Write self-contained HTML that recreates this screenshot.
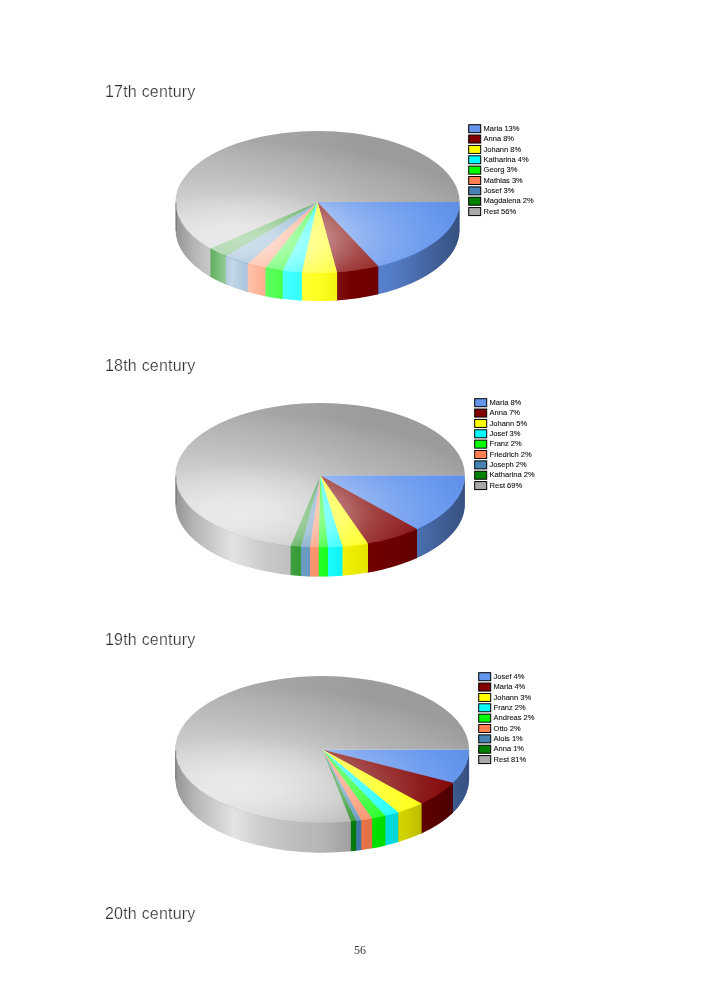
<!DOCTYPE html>
<html><head><meta charset="utf-8"><style>
html,body{margin:0;padding:0;background:#fff;}
body{width:709px;height:992px;position:relative;overflow:hidden;}
.h{position:absolute;left:105px;font-family:"Liberation Sans",sans-serif;font-size:16px;line-height:19px;color:#333;letter-spacing:0.21px;-webkit-text-stroke:0.22px #fff;paint-order:normal;will-change:transform;white-space:nowrap;}
.pn{position:absolute;left:0;width:709px;text-align:center;top:943px;font-family:"Liberation Serif",serif;font-size:12px;line-height:14px;color:#383838;will-change:transform;padding-left:11px;box-sizing:border-box;}
svg{position:absolute;left:0;top:0;will-change:transform;}
svg text{font-family:"Liberation Sans",sans-serif;font-size:7.5px;fill:#111;stroke:#111;stroke-width:0.1px;}
</style></head><body>
<div class="h" style="top:81.70px">17th century</div><div class="h" style="top:356.00px">18th century</div><div class="h" style="top:630.20px">19th century</div><div class="h" style="top:903.90px">20th century</div>
<svg width="709" height="992" viewBox="0 0 709 992">
<defs>
<linearGradient id="swc0" gradientUnits="userSpaceOnUse" x1="175.60" y1="0" x2="459.60" y2="0">
<stop offset="0" stop-color="#fff" stop-opacity="0"/>
<stop offset="0.06" stop-color="#fff" stop-opacity="0.12"/>
<stop offset="0.2" stop-color="#fff" stop-opacity="0.68"/>
<stop offset="0.3" stop-color="#fff" stop-opacity="0.4"/>
<stop offset="0.42" stop-color="#fff" stop-opacity="0.22"/>
<stop offset="0.52" stop-color="#fff" stop-opacity="0.12"/>
<stop offset="0.62" stop-color="#fff" stop-opacity="0"/>
</linearGradient>
<linearGradient id="sbc0" gradientUnits="userSpaceOnUse" x1="175.60" y1="0" x2="459.60" y2="0">
<stop offset="0" stop-color="#000" stop-opacity="0.12"/>
<stop offset="0.06" stop-color="#000" stop-opacity="0"/>
<stop offset="0.5" stop-color="#000" stop-opacity="0"/>
<stop offset="0.62" stop-color="#000" stop-opacity="0.08"/>
<stop offset="0.78" stop-color="#000" stop-opacity="0.18"/>
<stop offset="0.9" stop-color="#000" stop-opacity="0.34"/>
<stop offset="1" stop-color="#000" stop-opacity="0.46"/>
</linearGradient>
<radialGradient id="twc0" gradientUnits="userSpaceOnUse" cx="239.50" cy="238.92" r="258.44" gradientTransform="translate(239.50,238.92) scale(1,0.38) translate(-239.50,-238.92)">
<stop offset="0" stop-color="#fff" stop-opacity="0.72"/>
<stop offset="0.143" stop-color="#fff" stop-opacity="0.68"/>
<stop offset="0.32" stop-color="#fff" stop-opacity="0.52"/>
<stop offset="0.41" stop-color="#fff" stop-opacity="0.4"/>
<stop offset="0.5" stop-color="#fff" stop-opacity="0.27"/>
<stop offset="0.69" stop-color="#fff" stop-opacity="0.1"/>
<stop offset="0.836" stop-color="#fff" stop-opacity="0"/>
</radialGradient>
<linearGradient id="tlc0" gradientUnits="userSpaceOnUse" x1="175.60" y1="131.00" x2="360.20" y2="159.40">
<stop offset="0" stop-color="#fff" stop-opacity="0.2"/>
<stop offset="0.5" stop-color="#fff" stop-opacity="0.1"/>
<stop offset="1" stop-color="#fff" stop-opacity="0"/>
</linearGradient>
<radialGradient id="tbc0" gradientUnits="userSpaceOnUse" cx="239.50" cy="238.92" r="258.44" gradientTransform="translate(239.50,238.92) scale(1,0.38) translate(-239.50,-238.92)">
<stop offset="0.836" stop-color="#000" stop-opacity="0"/>
<stop offset="1" stop-color="#000" stop-opacity="0.08"/>
</radialGradient><linearGradient id="swc1" gradientUnits="userSpaceOnUse" x1="175.50" y1="0" x2="464.90" y2="0">
<stop offset="0" stop-color="#fff" stop-opacity="0"/>
<stop offset="0.06" stop-color="#fff" stop-opacity="0.12"/>
<stop offset="0.2" stop-color="#fff" stop-opacity="0.68"/>
<stop offset="0.3" stop-color="#fff" stop-opacity="0.4"/>
<stop offset="0.42" stop-color="#fff" stop-opacity="0.22"/>
<stop offset="0.52" stop-color="#fff" stop-opacity="0.12"/>
<stop offset="0.62" stop-color="#fff" stop-opacity="0"/>
</linearGradient>
<linearGradient id="sbc1" gradientUnits="userSpaceOnUse" x1="175.50" y1="0" x2="464.90" y2="0">
<stop offset="0" stop-color="#000" stop-opacity="0.12"/>
<stop offset="0.06" stop-color="#000" stop-opacity="0"/>
<stop offset="0.5" stop-color="#000" stop-opacity="0"/>
<stop offset="0.62" stop-color="#000" stop-opacity="0.08"/>
<stop offset="0.78" stop-color="#000" stop-opacity="0.18"/>
<stop offset="0.9" stop-color="#000" stop-opacity="0.34"/>
<stop offset="1" stop-color="#000" stop-opacity="0.46"/>
</linearGradient>
<radialGradient id="twc1" gradientUnits="userSpaceOnUse" cx="240.62" cy="512.90" r="263.35" gradientTransform="translate(240.62,512.90) scale(1,0.38) translate(-240.62,-512.90)">
<stop offset="0" stop-color="#fff" stop-opacity="0.72"/>
<stop offset="0.143" stop-color="#fff" stop-opacity="0.68"/>
<stop offset="0.32" stop-color="#fff" stop-opacity="0.52"/>
<stop offset="0.41" stop-color="#fff" stop-opacity="0.4"/>
<stop offset="0.5" stop-color="#fff" stop-opacity="0.27"/>
<stop offset="0.69" stop-color="#fff" stop-opacity="0.1"/>
<stop offset="0.836" stop-color="#fff" stop-opacity="0"/>
</radialGradient>
<linearGradient id="tlc1" gradientUnits="userSpaceOnUse" x1="175.50" y1="403.00" x2="363.61" y2="431.92">
<stop offset="0" stop-color="#fff" stop-opacity="0.2"/>
<stop offset="0.5" stop-color="#fff" stop-opacity="0.1"/>
<stop offset="1" stop-color="#fff" stop-opacity="0"/>
</linearGradient>
<radialGradient id="tbc1" gradientUnits="userSpaceOnUse" cx="240.62" cy="512.90" r="263.35" gradientTransform="translate(240.62,512.90) scale(1,0.38) translate(-240.62,-512.90)">
<stop offset="0.836" stop-color="#000" stop-opacity="0"/>
<stop offset="1" stop-color="#000" stop-opacity="0.08"/>
</radialGradient><linearGradient id="swc2" gradientUnits="userSpaceOnUse" x1="175.30" y1="0" x2="469.10" y2="0">
<stop offset="0" stop-color="#fff" stop-opacity="0"/>
<stop offset="0.06" stop-color="#fff" stop-opacity="0.12"/>
<stop offset="0.2" stop-color="#fff" stop-opacity="0.68"/>
<stop offset="0.3" stop-color="#fff" stop-opacity="0.4"/>
<stop offset="0.42" stop-color="#fff" stop-opacity="0.22"/>
<stop offset="0.52" stop-color="#fff" stop-opacity="0.12"/>
<stop offset="0.62" stop-color="#fff" stop-opacity="0"/>
</linearGradient>
<linearGradient id="sbc2" gradientUnits="userSpaceOnUse" x1="175.30" y1="0" x2="469.10" y2="0">
<stop offset="0" stop-color="#000" stop-opacity="0.12"/>
<stop offset="0.06" stop-color="#000" stop-opacity="0"/>
<stop offset="0.5" stop-color="#000" stop-opacity="0"/>
<stop offset="0.62" stop-color="#000" stop-opacity="0.08"/>
<stop offset="0.78" stop-color="#000" stop-opacity="0.18"/>
<stop offset="0.9" stop-color="#000" stop-opacity="0.34"/>
<stop offset="1" stop-color="#000" stop-opacity="0.46"/>
</linearGradient>
<radialGradient id="twc2" gradientUnits="userSpaceOnUse" cx="241.40" cy="787.57" r="267.36" gradientTransform="translate(241.40,787.57) scale(1,0.38) translate(-241.40,-787.57)">
<stop offset="0" stop-color="#fff" stop-opacity="0.72"/>
<stop offset="0.143" stop-color="#fff" stop-opacity="0.68"/>
<stop offset="0.32" stop-color="#fff" stop-opacity="0.52"/>
<stop offset="0.41" stop-color="#fff" stop-opacity="0.4"/>
<stop offset="0.5" stop-color="#fff" stop-opacity="0.27"/>
<stop offset="0.69" stop-color="#fff" stop-opacity="0.1"/>
<stop offset="0.836" stop-color="#fff" stop-opacity="0"/>
</radialGradient>
<linearGradient id="tlc2" gradientUnits="userSpaceOnUse" x1="175.30" y1="676.00" x2="366.27" y2="705.36">
<stop offset="0" stop-color="#fff" stop-opacity="0.2"/>
<stop offset="0.5" stop-color="#fff" stop-opacity="0.1"/>
<stop offset="1" stop-color="#fff" stop-opacity="0"/>
</linearGradient>
<radialGradient id="tbc2" gradientUnits="userSpaceOnUse" cx="241.40" cy="787.57" r="267.36" gradientTransform="translate(241.40,787.57) scale(1,0.38) translate(-241.40,-787.57)">
<stop offset="0.836" stop-color="#000" stop-opacity="0"/>
<stop offset="1" stop-color="#000" stop-opacity="0.08"/>
</radialGradient>
</defs>
<g><path d="M459.60,200.80 A142.00,71.00 0 0 1 377.26,265.23 L377.26,294.53 A142.00,71.00 0 0 0 459.60,230.10 Z" fill="#6495ed"/>
<path d="M378.30,264.99 A142.00,71.00 0 0 1 336.33,271.18 L336.33,300.48 A142.00,71.00 0 0 0 378.30,294.29 Z" fill="#800000"/>
<path d="M337.10,271.13 A142.00,71.00 0 0 1 301.06,271.32 L301.06,300.62 A142.00,71.00 0 0 0 337.10,300.43 Z" fill="#ffff00"/>
<path d="M301.83,271.36 A142.00,71.00 0 0 1 281.83,269.51 L281.83,298.81 A142.00,71.00 0 0 0 301.83,300.66 Z" fill="#00ffff"/>
<path d="M282.69,269.62 A142.00,71.00 0 0 1 264.47,266.64 L264.47,295.94 A142.00,71.00 0 0 0 282.69,298.92 Z" fill="#00ff00"/>
<path d="M265.45,266.84 A142.00,71.00 0 0 1 246.61,262.29 L246.61,291.59 A142.00,71.00 0 0 0 265.45,296.14 Z" fill="#ff7f50"/>
<path d="M247.73,262.61 A142.00,71.00 0 0 1 224.64,254.47 L224.64,283.77 A142.00,71.00 0 0 0 247.73,291.91 Z" fill="#4682b4"/>
<path d="M225.92,255.02 A142.00,71.00 0 0 1 209.13,246.62 L209.13,275.92 A142.00,71.00 0 0 0 225.92,284.32 Z" fill="#008000"/>
<path d="M210.45,247.39 A142.00,71.00 0 0 1 175.60,200.80 L175.60,230.10 A142.00,71.00 0 0 0 210.45,276.69 Z" fill="#a9a9a9"/>
<path d="M459.60,202.00 A142.00,71.00 0 0 1 175.60,202.00 L175.60,230.10 A142.00,71.00 0 0 0 459.60,230.10 Z" fill="url(#swc0)"/>
<path d="M459.60,202.00 A142.00,71.00 0 0 1 175.60,202.00 L175.60,230.10 A142.00,71.00 0 0 0 459.60,230.10 Z" fill="url(#sbc0)"/>
<path d="M317.60,202.00 L459.60,202.00 A142.00,71.00 0 0 1 377.43,266.39 Z" fill="#6495ed"/>
<path d="M317.60,202.00 L378.30,266.19 A142.00,71.00 0 0 1 336.46,272.37 Z" fill="#800000"/>
<path d="M317.60,202.00 L337.10,272.33 A142.00,71.00 0 0 1 301.19,272.52 Z" fill="#ffff00"/>
<path d="M317.60,202.00 L301.83,272.56 A142.00,71.00 0 0 1 281.97,270.73 Z" fill="#00ffff"/>
<path d="M317.60,202.00 L282.69,270.82 A142.00,71.00 0 0 1 264.63,267.88 Z" fill="#00ff00"/>
<path d="M317.60,202.00 L265.45,268.04 A142.00,71.00 0 0 1 246.80,263.55 Z" fill="#ff7f50"/>
<path d="M317.60,202.00 L247.73,263.81 A142.00,71.00 0 0 1 224.85,255.76 Z" fill="#4682b4"/>
<path d="M317.60,202.00 L225.92,256.22 A142.00,71.00 0 0 1 209.35,247.95 Z" fill="#008000"/>
<path d="M317.60,202.00 L210.45,248.59 A142.00,71.00 0 1 1 459.60,202.00 Z" fill="#a9a9a9"/>
<ellipse cx="317.60" cy="202.00" rx="142.00" ry="71.00" fill="url(#twc0)"/>
<ellipse cx="317.60" cy="202.00" rx="142.00" ry="71.00" fill="url(#tbc0)"/>
<ellipse cx="317.60" cy="202.00" rx="142.00" ry="71.00" fill="url(#tlc0)"/>
<path d="M176.05,202.80 L176.05,230.40" stroke="#000" stroke-opacity="0.38" stroke-width="0.9"/>
<rect x="468.70" y="124.70" width="12" height="8" fill="#6495ed" stroke="#000" stroke-width="1"/>
<text x="483.60" y="130.80">Maria 13%</text>
<rect x="468.70" y="135.06" width="12" height="8" fill="#800000" stroke="#000" stroke-width="1"/>
<text x="483.60" y="141.16">Anna 8%</text>
<rect x="468.70" y="145.42" width="12" height="8" fill="#ffff00" stroke="#000" stroke-width="1"/>
<text x="483.60" y="151.52">Johann 8%</text>
<rect x="468.70" y="155.78" width="12" height="8" fill="#00ffff" stroke="#000" stroke-width="1"/>
<text x="483.60" y="161.88">Katharina 4%</text>
<rect x="468.70" y="166.14" width="12" height="8" fill="#00ff00" stroke="#000" stroke-width="1"/>
<text x="483.60" y="172.24">Georg 3%</text>
<rect x="468.70" y="176.50" width="12" height="8" fill="#ff7f50" stroke="#000" stroke-width="1"/>
<text x="483.60" y="182.60">Mathias 3%</text>
<rect x="468.70" y="186.86" width="12" height="8" fill="#4682b4" stroke="#000" stroke-width="1"/>
<text x="483.60" y="192.96">Josef 3%</text>
<rect x="468.70" y="197.22" width="12" height="8" fill="#008000" stroke="#000" stroke-width="1"/>
<text x="483.60" y="203.32">Magdalena 2%</text>
<rect x="468.70" y="207.58" width="12" height="8" fill="#a9a9a9" stroke="#000" stroke-width="1"/>
<text x="483.60" y="213.68">Rest 56%</text></g><g><path d="M464.90,474.10 A144.70,72.30 0 0 1 415.68,528.42 L415.68,558.62 A144.70,72.30 0 0 0 464.90,504.30 Z" fill="#6495ed"/>
<path d="M417.00,527.84 A144.70,72.30 0 0 1 367.05,542.50 L367.05,572.70 A144.70,72.30 0 0 0 417.00,558.04 Z" fill="#800000"/>
<path d="M368.00,542.34 A144.70,72.30 0 0 1 341.70,545.60 L341.70,575.80 A144.70,72.30 0 0 0 368.00,572.54 Z" fill="#ffff00"/>
<path d="M342.50,545.54 A144.70,72.30 0 0 1 327.24,546.31 L327.24,576.51 A144.70,72.30 0 0 0 342.50,575.74 Z" fill="#00ffff"/>
<path d="M328.00,546.29 A144.70,72.30 0 0 1 317.94,546.39 L317.94,576.59 A144.70,72.30 0 0 0 328.00,576.49 Z" fill="#00ff00"/>
<path d="M318.70,546.40 A144.70,72.30 0 0 1 309.23,546.19 L309.23,576.39 A144.70,72.30 0 0 0 318.70,576.60 Z" fill="#ff7f50"/>
<path d="M310.00,546.22 A144.70,72.30 0 0 1 300.21,545.71 L300.21,575.91 A144.70,72.30 0 0 0 310.00,576.42 Z" fill="#4682b4"/>
<path d="M301.00,545.76 A144.70,72.30 0 0 1 289.76,544.78 L289.76,574.98 A144.70,72.30 0 0 0 301.00,575.96 Z" fill="#008000"/>
<path d="M290.60,544.87 A144.70,72.30 0 0 1 175.50,474.10 L175.50,504.30 A144.70,72.30 0 0 0 290.60,575.07 Z" fill="#a9a9a9"/>
<path d="M464.90,475.30 A144.70,72.30 0 0 1 175.50,475.30 L175.50,504.30 A144.70,72.30 0 0 0 464.90,504.30 Z" fill="url(#swc1)"/>
<path d="M464.90,475.30 A144.70,72.30 0 0 1 175.50,475.30 L175.50,504.30 A144.70,72.30 0 0 0 464.90,504.30 Z" fill="url(#sbc1)"/>
<path d="M320.20,475.30 L464.90,475.30 A144.70,72.30 0 0 1 415.90,529.53 Z" fill="#6495ed"/>
<path d="M320.20,475.30 L417.00,529.04 A144.70,72.30 0 0 1 367.21,543.68 Z" fill="#800000"/>
<path d="M320.20,475.30 L368.00,543.54 A144.70,72.30 0 0 1 341.83,546.79 Z" fill="#ffff00"/>
<path d="M320.20,475.30 L342.50,546.74 A144.70,72.30 0 0 1 327.36,547.51 Z" fill="#00ffff"/>
<path d="M320.20,475.30 L328.00,547.49 A144.70,72.30 0 0 1 318.07,547.59 Z" fill="#00ff00"/>
<path d="M320.20,475.30 L318.70,547.60 A144.70,72.30 0 0 1 309.36,547.40 Z" fill="#ff7f50"/>
<path d="M320.20,475.30 L310.00,547.42 A144.70,72.30 0 0 1 300.34,546.92 Z" fill="#4682b4"/>
<path d="M320.20,475.30 L301.00,546.96 A144.70,72.30 0 0 1 289.90,546.00 Z" fill="#008000"/>
<path d="M320.20,475.30 L290.60,546.07 A144.70,72.30 0 1 1 464.90,475.30 Z" fill="#a9a9a9"/>
<ellipse cx="320.20" cy="475.30" rx="144.70" ry="72.30" fill="url(#twc1)"/>
<ellipse cx="320.20" cy="475.30" rx="144.70" ry="72.30" fill="url(#tbc1)"/>
<ellipse cx="320.20" cy="475.30" rx="144.70" ry="72.30" fill="url(#tlc1)"/>
<path d="M175.95,476.10 L175.95,504.60" stroke="#000" stroke-opacity="0.38" stroke-width="0.9"/>
<rect x="474.70" y="398.70" width="12" height="8" fill="#6495ed" stroke="#000" stroke-width="1"/>
<text x="489.60" y="404.80">Maria 8%</text>
<rect x="474.70" y="409.06" width="12" height="8" fill="#800000" stroke="#000" stroke-width="1"/>
<text x="489.60" y="415.16">Anna 7%</text>
<rect x="474.70" y="419.42" width="12" height="8" fill="#ffff00" stroke="#000" stroke-width="1"/>
<text x="489.60" y="425.52">Johann 5%</text>
<rect x="474.70" y="429.78" width="12" height="8" fill="#00ffff" stroke="#000" stroke-width="1"/>
<text x="489.60" y="435.88">Josef 3%</text>
<rect x="474.70" y="440.14" width="12" height="8" fill="#00ff00" stroke="#000" stroke-width="1"/>
<text x="489.60" y="446.24">Franz 2%</text>
<rect x="474.70" y="450.50" width="12" height="8" fill="#ff7f50" stroke="#000" stroke-width="1"/>
<text x="489.60" y="456.60">Friedrich 2%</text>
<rect x="474.70" y="460.86" width="12" height="8" fill="#4682b4" stroke="#000" stroke-width="1"/>
<text x="489.60" y="466.96">Joseph 2%</text>
<rect x="474.70" y="471.22" width="12" height="8" fill="#008000" stroke="#000" stroke-width="1"/>
<text x="489.60" y="477.32">Katharina 2%</text>
<rect x="474.70" y="481.58" width="12" height="8" fill="#a9a9a9" stroke="#000" stroke-width="1"/>
<text x="489.60" y="487.68">Rest 69%</text></g><g><path d="M469.10,748.20 A146.90,73.40 0 0 1 451.80,782.75 L451.80,813.85 A146.90,73.40 0 0 0 469.10,779.30 Z" fill="#6495ed"/>
<path d="M453.00,781.61 A146.90,73.40 0 0 1 420.26,802.85 L420.26,833.95 A146.90,73.40 0 0 0 453.00,812.71 Z" fill="#800000"/>
<path d="M421.60,802.24 A146.90,73.40 0 0 1 397.12,811.34 L397.12,842.44 A146.90,73.40 0 0 0 421.60,833.34 Z" fill="#ffff00"/>
<path d="M398.30,810.98 A146.90,73.40 0 0 1 384.32,814.71 L384.32,845.81 A146.90,73.40 0 0 0 398.30,842.08 Z" fill="#00ffff"/>
<path d="M385.40,814.46 A146.90,73.40 0 0 1 371.23,817.39 L371.23,848.49 A146.90,73.40 0 0 0 385.40,845.56 Z" fill="#00ff00"/>
<path d="M372.20,817.22 A146.90,73.40 0 0 1 360.40,819.07 L360.40,850.17 A146.90,73.40 0 0 0 372.20,848.32 Z" fill="#ff7f50"/>
<path d="M361.30,818.95 A146.90,73.40 0 0 1 355.33,819.71 L355.33,850.81 A146.90,73.40 0 0 0 361.30,850.05 Z" fill="#4682b4"/>
<path d="M356.20,819.61 A146.90,73.40 0 0 1 350.06,820.27 L350.06,851.37 A146.90,73.40 0 0 0 356.20,850.71 Z" fill="#008000"/>
<path d="M350.90,820.19 A146.90,73.40 0 0 1 175.30,748.20 L175.30,779.30 A146.90,73.40 0 0 0 350.90,851.29 Z" fill="#a9a9a9"/>
<path d="M469.10,749.40 A146.90,73.40 0 0 1 175.30,749.40 L175.30,779.30 A146.90,73.40 0 0 0 469.10,779.30 Z" fill="url(#swc2)"/>
<path d="M469.10,749.40 A146.90,73.40 0 0 1 175.30,749.40 L175.30,779.30 A146.90,73.40 0 0 0 469.10,779.30 Z" fill="url(#sbc2)"/>
<path d="M322.20,749.40 L469.10,749.40 A146.90,73.40 0 0 1 452.00,783.77 Z" fill="#6495ed"/>
<path d="M322.20,749.40 L453.00,782.81 A146.90,73.40 0 0 1 420.48,803.95 Z" fill="#800000"/>
<path d="M322.20,749.40 L421.60,803.44 A146.90,73.40 0 0 1 397.31,812.48 Z" fill="#ffff00"/>
<path d="M322.20,749.40 L398.30,812.18 A146.90,73.40 0 0 1 384.50,815.87 Z" fill="#00ffff"/>
<path d="M322.20,749.40 L385.40,815.66 A146.90,73.40 0 0 1 371.39,818.56 Z" fill="#00ff00"/>
<path d="M322.20,749.40 L372.20,818.42 A146.90,73.40 0 0 1 360.55,820.25 Z" fill="#ff7f50"/>
<path d="M322.20,749.40 L361.30,820.15 A146.90,73.40 0 0 1 355.48,820.89 Z" fill="#4682b4"/>
<path d="M322.20,749.40 L356.20,820.81 A146.90,73.40 0 0 1 350.20,821.45 Z" fill="#008000"/>
<path d="M322.20,749.40 L350.90,821.39 A146.90,73.40 0 1 1 469.10,749.40 Z" fill="#a9a9a9"/>
<ellipse cx="322.20" cy="749.40" rx="146.90" ry="73.40" fill="url(#twc2)"/>
<ellipse cx="322.20" cy="749.40" rx="146.90" ry="73.40" fill="url(#tbc2)"/>
<ellipse cx="322.20" cy="749.40" rx="146.90" ry="73.40" fill="url(#tlc2)"/>
<path d="M175.75,750.20 L175.75,779.60" stroke="#000" stroke-opacity="0.38" stroke-width="0.9"/>
<rect x="478.70" y="672.70" width="12" height="8" fill="#6495ed" stroke="#000" stroke-width="1"/>
<text x="493.60" y="678.80">Josef 4%</text>
<rect x="478.70" y="683.06" width="12" height="8" fill="#800000" stroke="#000" stroke-width="1"/>
<text x="493.60" y="689.16">Maria 4%</text>
<rect x="478.70" y="693.42" width="12" height="8" fill="#ffff00" stroke="#000" stroke-width="1"/>
<text x="493.60" y="699.52">Johann 3%</text>
<rect x="478.70" y="703.78" width="12" height="8" fill="#00ffff" stroke="#000" stroke-width="1"/>
<text x="493.60" y="709.88">Franz 2%</text>
<rect x="478.70" y="714.14" width="12" height="8" fill="#00ff00" stroke="#000" stroke-width="1"/>
<text x="493.60" y="720.24">Andreas 2%</text>
<rect x="478.70" y="724.50" width="12" height="8" fill="#ff7f50" stroke="#000" stroke-width="1"/>
<text x="493.60" y="730.60">Otto 2%</text>
<rect x="478.70" y="734.86" width="12" height="8" fill="#4682b4" stroke="#000" stroke-width="1"/>
<text x="493.60" y="740.96">Alois 1%</text>
<rect x="478.70" y="745.22" width="12" height="8" fill="#008000" stroke="#000" stroke-width="1"/>
<text x="493.60" y="751.32">Anna 1%</text>
<rect x="478.70" y="755.58" width="12" height="8" fill="#a9a9a9" stroke="#000" stroke-width="1"/>
<text x="493.60" y="761.68">Rest 81%</text></g>
</svg>
<div class="pn">56</div>
</body></html>
